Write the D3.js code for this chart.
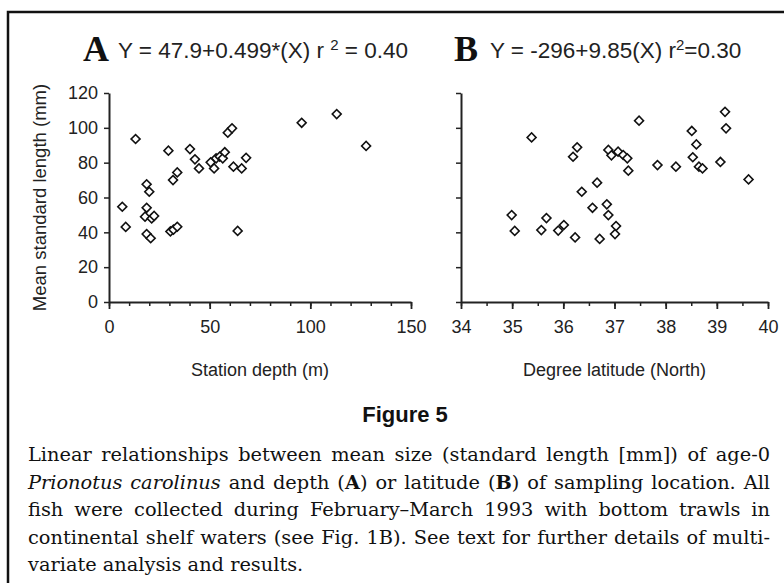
<!DOCTYPE html>
<html>
<head>
<meta charset="utf-8">
<script src="https://cdn.jsdelivr.net/npm/d3@7/dist/d3.min.js"></script>
<style>
  body { margin: 0; background: #fff; }
  svg { display: block; }
</style>
</head>
<body>
<svg id="chart" width="784" height="583"></svg>
<script>
// Panel A: station depth (m) vs mean standard length (mm)
const depthA = [6.6, 8.3, 13.2, 18.7, 20.0, 18.7, 17.9, 21.2, 22.4, 18.7, 20.7, 29.5, 31.8, 33.9, 30.5, 32.0, 33.9,
  40.2, 42.7, 44.7, 50.5, 52.2, 53.2, 55.0, 56.5, 57.5, 59.0, 61.1, 61.8, 63.9, 65.9, 68.1, 95.7, 113.1, 127.7];
const lengthA = [54.7, 43.1, 93.6, 67.6, 63.3, 54.1, 49.0, 48.0, 49.4, 39.0, 36.6, 86.9, 70.0, 74.4, 40.5, 41.5, 43.2,
  87.8, 81.9, 76.7, 80.2, 76.7, 82.5, 83.5, 82.5, 86.0, 97.2, 99.7, 77.7, 40.8, 76.7, 82.8, 102.9, 107.9, 89.6];

// Panel B: degree latitude (North) vs mean standard length (mm)
const latB = [34.99, 35.05, 35.38, 35.57, 35.67, 35.9, 36.01, 36.23, 36.19, 36.27, 36.36, 36.57, 36.66, 36.71, 36.85,
  36.88, 37.03, 37.01, 36.88, 36.94, 37.07, 37.17, 37.25, 37.27, 37.48, 37.84, 38.2, 38.51, 38.6, 38.53, 38.65,
  38.72, 39.07, 39.16, 39.18, 39.62];
const lengthB = [49.9, 40.8, 94.5, 41.3, 48.2, 41.0, 44.2, 37.1, 83.4, 88.8, 63.3, 54.1, 68.5, 36.2, 56.1,
  49.9, 43.6, 39.0, 87.3, 84.2, 86.3, 84.4, 82.5, 75.4, 104.1, 78.6, 77.7, 98.2, 90.5, 83.1, 77.7,
  76.7, 80.4, 109.2, 99.7, 70.4];

const yTicks = [0, 20, 40, 60, 80, 100, 120];
const xTicksA = [0, 50, 100, 150];
const xMinorA = d3.range(0, 151, 10);
const xTicksB = [34, 35, 36, 37, 38, 39, 40];
const xMinorB = d3.range(34, 40.01, 0.5);

const sans = "'Liberation Sans', Arial, sans-serif";
const serif = "'DejaVu Serif', 'Liberation Serif', serif";

const svg = d3.select("#chart");

// frame
svg.append("rect")
  .attr("x", 8).attr("y", 12).attr("width", 800).attr("height", 600)
  .attr("fill", "none").attr("stroke", "#111").attr("stroke-width", 2.5);

const y = d3.scaleLinear().domain([0, 120]).range([302, 93]);
const xA = d3.scaleLinear().domain([0, 150]).range([109, 411]);
const xB = d3.scaleLinear().domain([34, 40]).range([461, 768]);

function panel(x, majors, minors, xs, ys, showY, letter, eq, xTitle) {
  const g = svg.append("g");
  const x0 = x.range()[0];

  // minor ticks
  g.append("g")
    .attr("transform", `translate(0,${y(0)})`)
    .call(d3.axisBottom(x).tickValues(minors).tickSize(4).tickSizeOuter(0).tickFormat(""))
    .call(a => a.select(".domain").remove())
    .call(a => a.selectAll("line").attr("stroke", "#222").attr("stroke-width", 1.5));

  // major ticks + labels
  g.append("g")
    .attr("transform", `translate(0,${y(0)})`)
    .call(d3.axisBottom(x).tickValues(majors).tickSize(7).tickSizeOuter(0).tickPadding(11)
      .tickFormat(d3.format("d")))
    .call(a => a.select(".domain").attr("stroke", "#222").attr("stroke-width", 2))
    .call(a => a.selectAll("line").attr("stroke", "#222").attr("stroke-width", 1.8))
    .call(a => a.selectAll("text").attr("font-family", sans).attr("font-size", 18).attr("fill", "#222"));

  // y axis
  g.append("g")
    .attr("transform", `translate(${x0},0)`)
    .call(d3.axisLeft(y).tickValues(yTicks).tickSize(5).tickSizeOuter(0).tickPadding(6)
      .tickFormat(showY ? d3.format("d") : ""))
    .call(a => a.select(".domain").attr("stroke", "#222").attr("stroke-width", 2))
    .call(a => a.selectAll("line").attr("stroke", "#222").attr("stroke-width", 1.5))
    .call(a => a.selectAll("text").attr("font-family", sans).attr("font-size", 18).attr("fill", "#222"));

  // points
  g.append("g").selectAll("path")
    .data(xs.map((v, i) => [v, ys[i]]))
    .join("path")
    .attr("d", d3.symbol().type(d3.symbolSquare).size(40))
    .attr("transform", d => `translate(${x(d[0])},${y(d[1])}) rotate(45)`)
    .attr("fill", "#fff").attr("stroke", "#111").attr("stroke-width", 1.6);

  // panel letter + equation
  g.append("text").attr("x", letter.x).attr("y", 61)
    .attr("font-family", "'Liberation Serif', 'Times New Roman', serif").attr("font-weight", "bold")
    .attr("font-size", 36).attr("fill", "#111").text(letter.t);
  const e = g.append("text").attr("x", eq.x).attr("y", 58)
    .attr("font-family", sans).attr("font-size", 22.5).attr("fill", "#222");
  e.append("tspan").text(eq.a);
  e.append("tspan").attr("dy", -8).attr("font-size", 15).text("2");
  e.append("tspan").attr("dy", 8).text(eq.b);

  // x axis title
  const [r0, r1] = x.range();
  g.append("text").attr("x", (r0 + r1) / 2).attr("y", 376)
    .attr("text-anchor", "middle").attr("font-family", sans).attr("font-size", 18).attr("fill", "#222")
    .text(xTitle);
}

panel(xA, xTicksA, xMinorA, depthA, lengthA, true, { x: 83, t: "A" },
  { x: 118, a: "Y = 47.9+0.499*(X) r ", b: " = 0.40" }, "Station depth (m)");
panel(xB, xTicksB, xMinorB, latB, lengthB, false, { x: 454, t: "B" },
  { x: 490, a: "Y = -296+9.85(X) r", b: "=0.30" }, "Degree latitude (North)");

// y axis title
svg.append("text")
  .attr("transform", `translate(46,${(y(0) + y(120)) / 2}) rotate(-90)`)
  .attr("text-anchor", "middle").attr("font-family", sans).attr("font-size", 18.5).attr("fill", "#222")
  .text("Mean standard length (mm)");

// figure label
svg.append("text").attr("x", 405).attr("y", 422).attr("text-anchor", "middle")
  .attr("font-family", "'Liberation Sans Narrow', 'Liberation Sans', sans-serif")
  .attr("font-weight", "bold").attr("font-size", 22).attr("fill", "#111").text("Figure 5");

// caption, justified line by line
const captionLines = [
  [{ t: "Linear relationships between mean size (standard length [mm]) of age-0" }],
  [{ t: "Prionotus carolinus", i: true }, { t: " and depth (" }, { t: "A", b: true }, { t: ") or latitude (" },
   { t: "B", b: true }, { t: ") of sampling location. All" }],
  [{ t: "fish were collected during February\u2013March 1993 with bottom trawls in" }],
  [{ t: "continental shelf waters (see Fig. 1B). See text for further details of multi-" }],
  [{ t: "variate analysis and results." }]
];
const capLeft = 28, capWidth = 742;
const capNodes = captionLines.map((segs, i) => {
  const t = svg.append("text").attr("x", capLeft).attr("y", 461 + i * 27.5)
    .attr("font-family", serif).attr("font-size", 18).attr("fill", "#111");
  segs.forEach(s => t.append("tspan").text(s.t)
    .attr("font-style", s.i ? "italic" : null).attr("font-weight", s.b ? "bold" : null));
  return t;
});
// fit the font so the widest line just fills the column, then justify with word spacing
const widest = d3.max(capNodes.slice(0, -1), t => t.node().getComputedTextLength());
const capSize = Math.min(21, 18 * capWidth * 0.985 / widest);
capNodes.forEach((t, i) => {
  t.attr("font-size", capSize);
  if (i < capNodes.length - 1) {
    const w = t.node().getComputedTextLength();
    const spaces = t.text().split(" ").length - 1;
    t.style("word-spacing", ((capWidth - w) / spaces) + "px");
  }
});
</script>
</body>
</html>
